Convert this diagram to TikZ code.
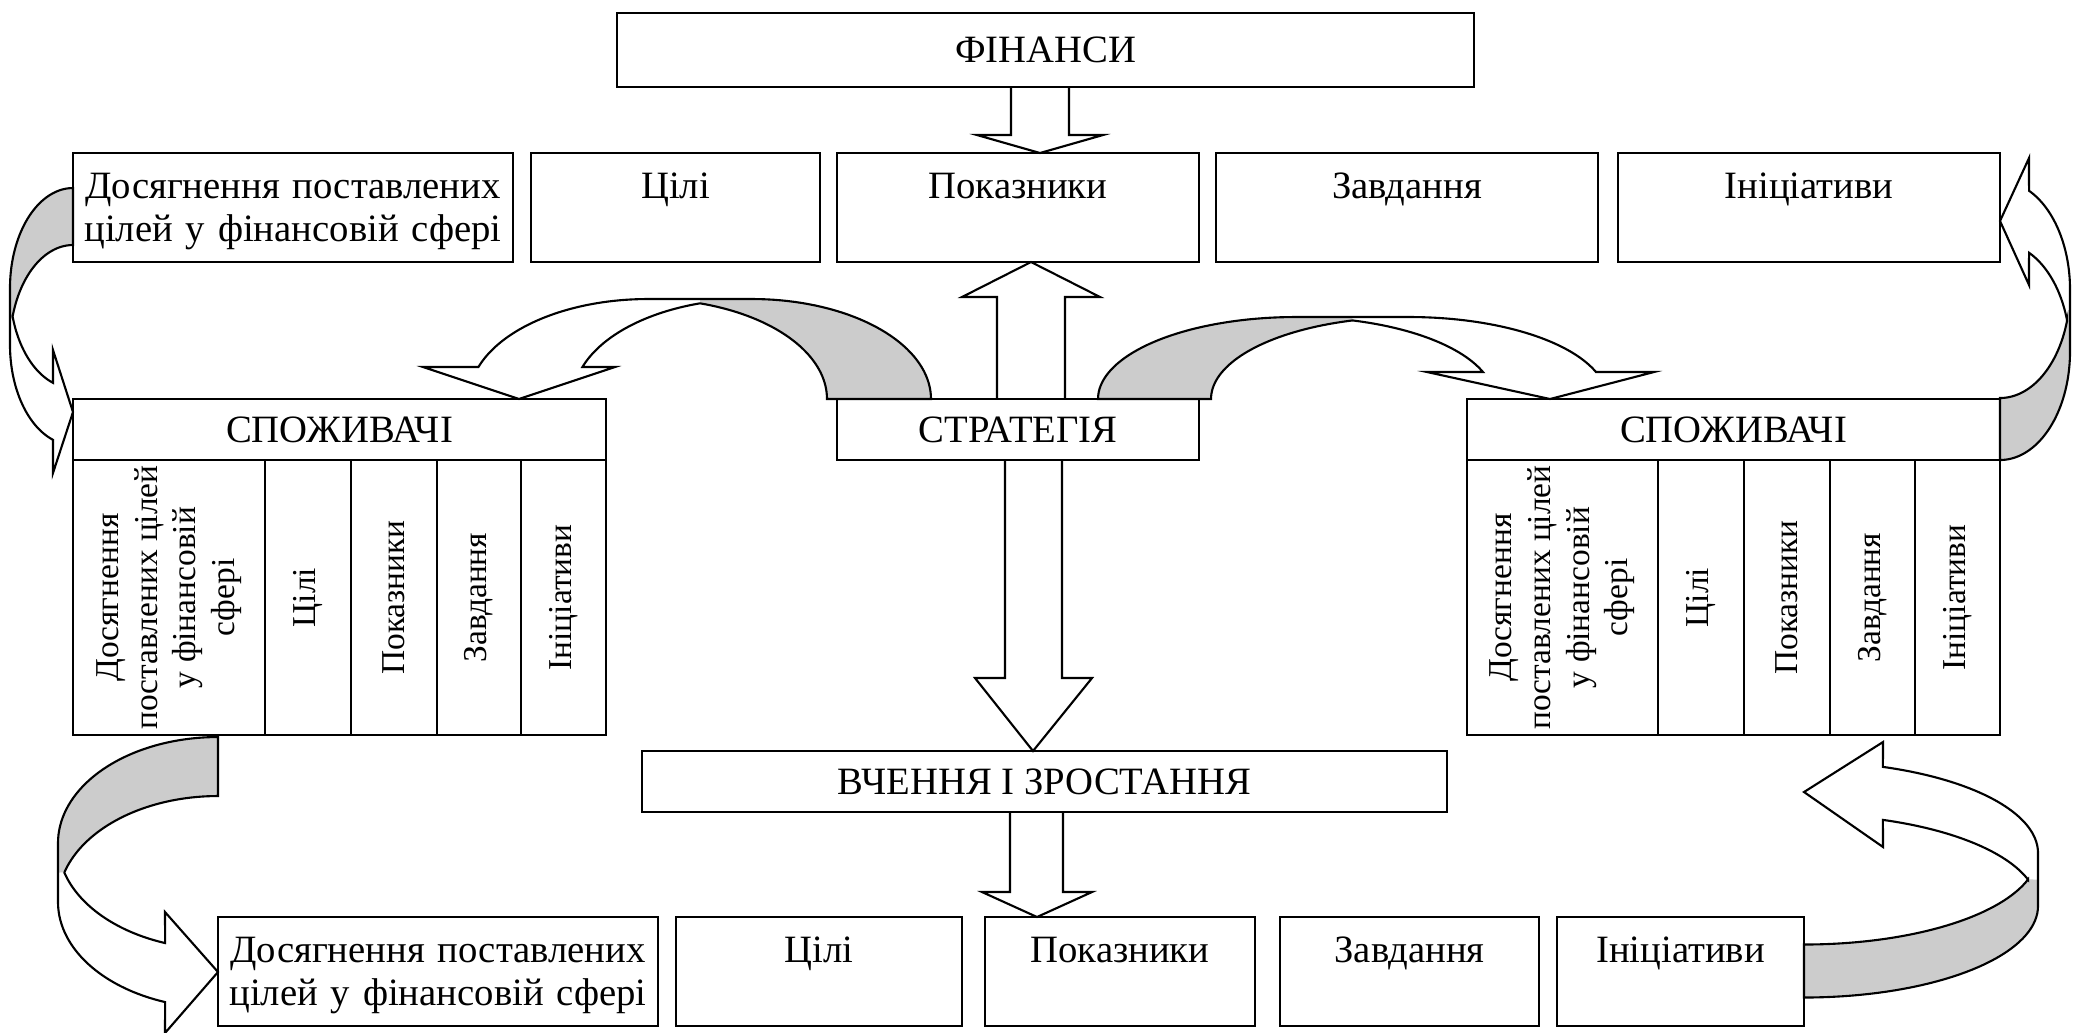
\documentclass[tikz,border=0pt]{standalone}
\usepackage{fontspec}
\setmainfont{Liberation Serif}
\definecolor{ribbon}{HTML}{CCCCCC}
% half-ellipse pieces for the ribbon arrows: cx, cy, rx, ry, from, to
\newcommand\ribarc[6]{plot[domain=#5:#6,samples=40]({#1+#3*cos(\x)},{#2+#4*sin(\x)})}
\newcommand\ribto[6]{-- plot[domain=#5:#6,samples=40]({#1+#3*cos(\x)},{#2+#4*sin(\x)})}

\begin{document}
\begin{tikzpicture}[x=0.01cm, y=-0.01cm, line width=0.6pt,
    every node/.style={font=\fontsize{11}{12.5}\selectfont, inner sep=0pt},
    box/.style={draw, minimum width=#1, minimum height=0.61cm},
    rowbox/.style={draw, text width=#1, align=center, text height=0.45cm, text depth=0.64cm},
    cell/.style={draw, rotate=90, minimum width=2.75cm, minimum height=#1, align=center,
        font=\fontsize{9.5}{11}\selectfont}
    ]
    \useasboundingbox (0,0) rectangle (2073,1032);

    % Finance
    \node[box=8.57cm, minimum height=0.74cm] (fin) at (1045.5,50) {ФІНАНСИ};
    \node[rowbox=4.40cm] (fgoal) at (293,207.5) {Досягнення поставлених\\цілей у фінансовій сфері};
    \node[rowbox=2.89cm] (faim) at (675.5,207.5) {Цілі};
    \node[rowbox=3.62cm] (find) at (1018,207.5) {Показники};
    \node[rowbox=3.82cm] (ftask) at (1407,207.5) {Завдання};
    \node[rowbox=3.82cm] (finit) at (1809,207.5) {Ініціативи};

    % Strategy
    \node[box=3.62cm] (strat) at (1018,429.5) {СТРАТЕГІЯ};

    % Customers, left
    \node[box=5.33cm] (lcust) at (339.5,429.5) {СПОЖИВАЧІ};
    \node[cell=1.92cm] (lgoal) at (169,597.5) {Досягнення\\поставлених цілей\\у фінансовій\\сфері};
    \node[cell=0.86cm] (laim) at (308,597.5) {Цілі};
    \node[cell=0.86cm] (lind) at (394,597.5) {Показники};
    \node[cell=0.84cm] (ltask) at (479,597.5) {Завдання};
    \node[cell=0.85cm] (linit) at (563.5,597.5) {Ініціативи};

    % Customers, right
    \node[box=5.33cm] (rcust) at (1733.5,429.5) {СПОЖИВАЧІ};
    \node[cell=1.91cm] (rgoal) at (1562.5,597.5) {Досягнення\\поставлених цілей\\у фінансовій\\сфері};
    \node[cell=0.86cm] (raim) at (1701,597.5) {Цілі};
    \node[cell=0.86cm] (rind) at (1787,597.5) {Показники};
    \node[cell=0.85cm] (rtask) at (1872.5,597.5) {Завдання};
    \node[cell=0.85cm] (rinit) at (1957.5,597.5) {Ініціативи};

    % Learning and growth
    \node[box=8.05cm] (learn) at (1044.5,781.5) {ВЧЕННЯ І ЗРОСТАННЯ};
    \node[rowbox=4.40cm] (lgoalb) at (438,971.5) {Досягнення поставлених\\цілей у фінансовій сфері};
    \node[rowbox=2.86cm] (laimb) at (819,971.5) {Цілі};
    \node[rowbox=2.70cm] (lindb) at (1120,971.5) {Показники};
    \node[rowbox=2.59cm] (ltaskb) at (1409.5,971.5) {Завдання};
    \node[rowbox=2.47cm] (linitb) at (1680.5,971.5) {Ініціативи};

    % Straight block arrows
    \draw (1011,87) -- (1011,135) -- (977,135) -- (1040,153) -- (1103,135) -- (1069,135) -- (1069,87);
    \draw (997,399) -- (997,297) -- (962,297) -- (1031,262) -- (1100,297) -- (1065,297) -- (1065,399);
    \draw (1005,460) -- (1005,678) -- (975,678) -- (1033,751) -- (1092,678) -- (1062,678) -- (1062,460);
    \draw (1010,812) -- (1010,892) -- (982,892) -- (1037,917) -- (1092,892) -- (1063,892) -- (1063,812);

    % Strategy -> left customers
    \fill[ribbon] \ribarc{752}{399}{179}{100}{270}{360} \ribto{648}{399}{179}{100}{360}{286.9} -- (700,299) -- cycle;
    \draw \ribarc{648}{399}{179}{100}{198.7}{270} \ribto{752}{399}{179}{100}{270}{360}
        \ribto{648}{399}{179}{100}{360}{286.9} \ribto{752}{399}{179}{100}{253.1}{198.7}
        -- (615,367) -- (519,399) -- (423,367) -- cycle;

    % Strategy -> right customers
    \fill[ribbon] \ribarc{1296}{399}{198}{82}{180}{270} -- (1352.5,317) \ribto{1409}{399}{198}{82}{253.4}{180} -- cycle;
    \draw \ribarc{1296}{399}{198}{82}{180}{270} \ribto{1409}{399}{198}{82}{270}{340.8}
        -- (1654,372) -- (1550,399) -- (1427,372)
        \ribto{1296}{399}{198}{82}{340.8}{286.6} \ribto{1409}{399}{198}{82}{253.4}{180} -- cycle;

    % Finance -> left customers
    \fill[ribbon] \ribarc{73}{288}{63}{100}{270}{180} -- (10,316.5) \ribto{73}{345}{63}{100}{196.6}{270} -- cycle;
    \draw \ribarc{73}{288}{63}{100}{270}{180} \ribto{73}{345}{63}{100}{180}{108.5}
        -- (53,473) -- (73,412) -- (53,350)
        \ribto{73}{288}{63}{100}{108.5}{163.4} \ribto{73}{345}{63}{100}{196.6}{270} -- cycle;

    % Right customers -> finance
    \fill[ribbon] \ribarc{2000}{351.5}{70}{108.5}{90}{0} -- (2070,320.5) \ribto{2000}{289.5}{70}{108.5}{16.6}{90} -- cycle;
    \draw \ribarc{2000}{351.5}{70}{108.5}{90}{0} \ribto{2000}{289.5}{70}{108.5}{0}{-65.5}
        -- (2029,158) -- (2000,221) -- (2029,285)
        \ribto{2000}{351.5}{70}{108.5}{-65.5}{-16.6} \ribto{2000}{289.5}{70}{108.5}{16.6}{90} -- cycle;

    % Left customers -> learning
    \fill[ribbon] \ribarc{218}{843}{160}{106}{270}{180} -- (58,872.5) \ribto{218}{902}{160}{106}{196.2}{270} -- cycle;
    \draw \ribarc{218}{843}{160}{106}{270}{180} \ribto{218}{902}{160}{106}{180}{109.3}
        -- (165,1033) -- (218,972) -- (165,912)
        \ribto{218}{843}{160}{106}{109.3}{163.8} \ribto{218}{902}{160}{106}{196.2}{270} -- cycle;

    % Learning -> right customers
    \fill[ribbon] \ribarc{1804}{906}{234}{91.5}{90}{0} -- (2038,879.5) \ribto{1804}{853}{234}{91.5}{16.8}{90} -- cycle;
    \draw \ribarc{1804}{906}{234}{91.5}{90}{0} \ribto{1804}{853}{234}{91.5}{0}{-70.3}
        -- (1883,742) -- (1804,792) -- (1883,847)
        \ribto{1804}{906}{234}{91.5}{-70.3}{-16.8} \ribto{1804}{853}{234}{91.5}{16.8}{90} -- cycle;

\end{tikzpicture}
\end{document}
